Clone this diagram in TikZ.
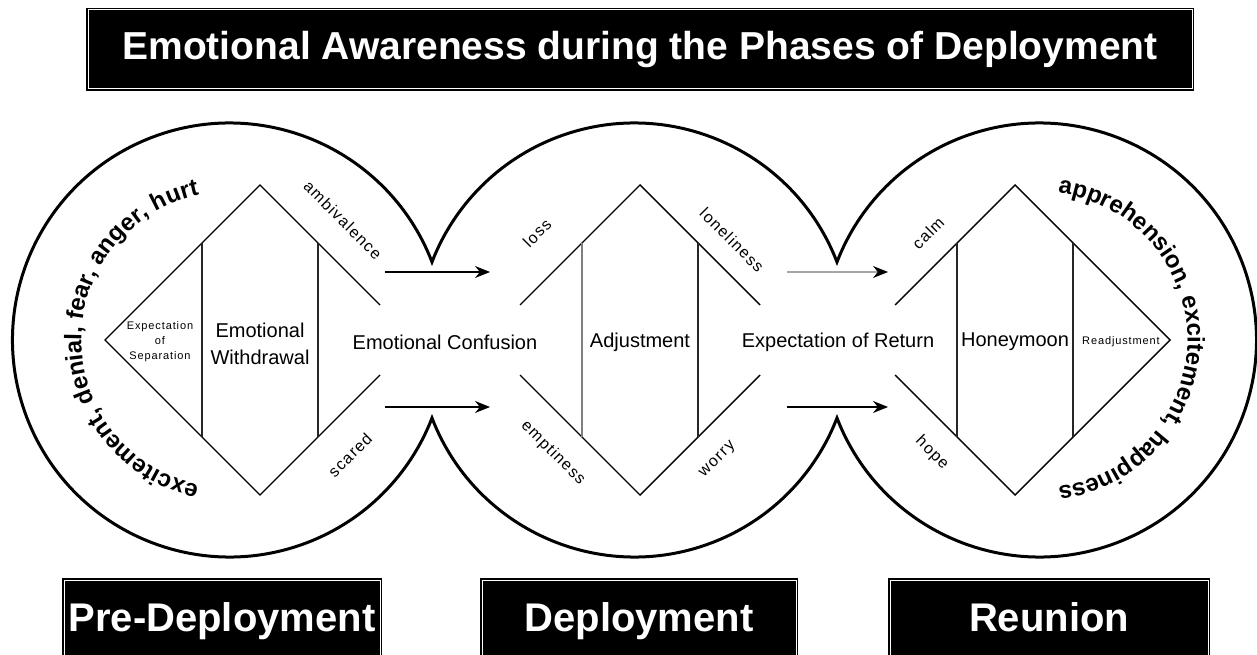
\documentclass[tikz,border=0pt]{standalone}
\usepackage{fontspec}
\setmainfont{Liberation Sans}
\newfontfamily\labelfont[LetterSpace=8]{Liberation Sans}
\usetikzlibrary{arrows.meta, decorations.text}

\newcommand{\arcfont}{\fontsize{24}{24}\selectfont\bfseries}
\def\pretext{|\arcfont|excitement, denial, fear, anger, hurt}
\def\reuniontext{|\arcfont|apprehension, excitement, happiness}

\begin{document}
\begin{tikzpicture}[
    x=1pt, y=1pt,
    banner/.style = {
        rectangle,
        draw=black,
        double=white,
        double distance=1pt,
        line width=1.2pt,
        fill=black,
        text=white,
        font=\fontsize{#1}{#1}\selectfont\bfseries,
        text height=29pt,
        text depth=8pt,
        inner sep=0pt
    },
    outline/.style = {line width=3pt, black},
    edge line/.style = {line width=1.4pt, black},
    phase line/.style = {line width=1.8pt, black!85},
    stage/.style = {font=\fontsize{20}{27}\selectfont, align=center, inner sep=0pt},
    small stage/.style = {font=\labelfont\fontsize{11}{15}\selectfont, align=center, inner sep=0pt},
    feeling/.style = {font=\labelfont\fontsize{16}{16}\selectfont, inner sep=0pt},
    flow/.style = {-{Stealth[length=15pt, width=12pt, black]}, line width=1.5pt}
]
\useasboundingbox (0,0) rectangle (1257,654);

% title and phase names
\node[banner=39, minimum width=1104pt, minimum height=79pt] (title) at (640,604.5)
    {Emotional Awareness during the Phases of Deployment};
\node[banner=40, minimum width=316pt, minimum height=81pt] (pre) at (222,33.5) {Pre-Deployment};
\node[banner=40, minimum width=314pt, minimum height=81pt] (dep) at (639,33.5) {Deployment};
\node[banner=40, minimum width=318pt, minimum height=81pt] (reunion) at (1049,33.5) {Reunion};

% three joined circles
\coordinate (pre c) at (229.5,314);
\coordinate (dep c) at (634.5,314);
\coordinate (reunion c) at (1039.5,314);
\pgfmathsetmacro\cusp{atan(78/202.5)}
\draw[outline] ([shift={(\cusp:217)}]pre c)
    arc[start angle=\cusp, end angle=360-\cusp, radius=217]
    arc[start angle=180+\cusp, end angle=360-\cusp, radius=217]
    arc[start angle=180+\cusp, end angle=540-\cusp, radius=217]
    arc[start angle=\cusp, end angle=180-\cusp, radius=217] -- cycle;

\path[decorate, decoration={text along path, text/.expand once=\pretext, text align=center}]
    ([shift={(260:148)}]pre c) arc[start angle=260, end angle=100, radius=148];
\path[decorate, decoration={text along path, text/.expand once=\reuniontext, text align=center}]
    ([shift={(85:148)}]reunion c) arc[start angle=85, end angle=-85, radius=148];

% pre-deployment
\begin{scope}[shift={(260,314)}]
    \draw[edge line] (120,35) -- (0,155) -- (-155,0) -- (0,-155) -- (120,-35);
    \draw[phase line] (-58,97) -- (-58,-97);
    \draw[phase line] (58,97) -- (58,-97);
    \node[small stage] (separation) at (-100,-2) {Expectation\\of\\Separation};
    \node[stage] (withdrawal) at (0,-4) {Emotional\\Withdrawal};
    \node[feeling, rotate=-45] (ambivalence) at (83,120) {ambivalence};
    \node[feeling, rotate=45] (scared) at (90,-115) {scared};
\end{scope}

% deployment
\begin{scope}[shift={(640,314)}]
    \draw[edge line] (-120,35) -- (0,155) -- (120,35);
    \draw[edge line] (-120,-35) -- (0,-155) -- (120,-35);
    \draw[phase line, gray] (-58,97) -- (-58,-97);
    \draw[phase line] (58,97) -- (58,-97);
    \node[stage] (adjustment) at (0,-2) {Adjustment};
    \node[feeling, rotate=45] (loss) at (-103,107) {loss};
    \node[feeling, rotate=-45] (loneliness) at (92,100) {loneliness};
    \node[feeling, rotate=-45] (emptiness) at (-87,-113) {emptiness};
    \node[feeling, rotate=45] (worry) at (78,-120) {worry};
\end{scope}

% reunion
\begin{scope}[shift={(1015,314)}]
    \draw[edge line] (-120,35) -- (0,155) -- (155,0) -- (0,-155) -- (-120,-35);
    \draw[phase line] (-58,97) -- (-58,-97);
    \draw[phase line] (58,97) -- (58,-97);
    \node[stage] (honeymoon) at (0,-2) {Honeymoon};
    \node[small stage] (readjustment) at (106,-2) {Readjustment};
    \node[feeling, rotate=45] (calm) at (-87,107) {calm};
    \node[feeling, rotate=-45] (hope) at (-83,-113) {hope};
\end{scope}

\node[stage] (confusion) at (445,312) {Emotional Confusion};
\node[stage] (return) at (838,312) {Expectation of Return};

% transitions between phases
\coordinate (out1) at (385,382);
\coordinate (in1) at (490,382);
\coordinate (out2) at (385,247);
\coordinate (in2) at (490,247);
\coordinate (out3) at (787,382);
\coordinate (in3) at (888,382);
\coordinate (out4) at (787,247);
\coordinate (in4) at (888,247);
\draw[flow] (out1) -- (in1);
\draw[flow] (out2) -- (in2);
\draw[flow, draw=gray!70] (out3) -- (in3);
\draw[flow] (out4) -- (in4);

\end{tikzpicture}
\end{document}
